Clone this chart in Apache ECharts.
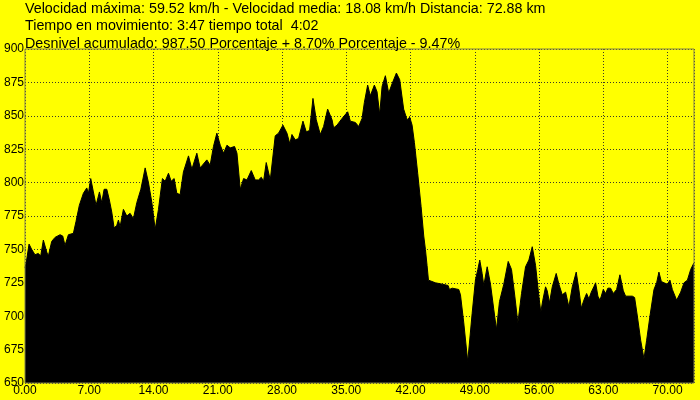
<!DOCTYPE html>
<html>
<head>
<meta charset="utf-8">
<script src="https://cdn.jsdelivr.net/npm/echarts@6/dist/echarts.min.js"></script>
<style>html,body{margin:0;padding:0;background:#ffff00;}#c{width:700px;height:400px;}</style>
</head>
<body>
<div id="c"></div>
<script>
const headerLines = [
  "Velocidad máxima: 59.52 km/h - Velocidad media: 18.08 km/h Distancia: 72.88 km",
  "Tiempo en movimiento: 3:47 tiempo total  4:02",
  "Desnivel acumulado: 987.50 Porcentaje + 8.70% Porcentaje - 9.47%"
];
const distKm = [
  0.00,0.18,0.44,0.73,1.09,1.45,1.71,2.00,2.37,2.54,
  2.91,3.27,3.82,4.11,4.36,4.73,5.27,5.56,5.92,6.36,
  6.73,6.91,7.16,7.45,7.74,8.11,8.36,8.62,8.91,9.19,
  9.45,9.71,10.00,10.18,10.36,10.72,11.09,11.45,11.81,12.18,
  12.62,13.09,13.45,13.82,14.18,14.54,14.97,15.27,15.63,15.92,
  16.25,16.54,16.90,17.26,17.81,18.18,18.72,19.08,19.81,20.17,
  20.53,20.90,21.27,21.63,22.00,22.36,22.83,23.09,23.45,23.81,
  24.18,24.65,25.08,25.44,25.74,25.99,26.28,26.72,27.26,27.62,
  28.10,28.54,28.85,29.08,29.44,29.80,30.28,30.64,31.00,31.37,
  31.73,32.17,32.53,32.97,33.45,33.62,33.99,34.54,35.15,35.44,
  35.99,36.35,36.72,36.97,37.33,37.62,38.06,38.35,38.64,38.90,
  39.26,39.62,39.99,40.46,40.82,41.25,41.62,41.91,42.17,42.42,
  42.78,43.15,43.44,43.62,43.80,43.95,44.71,45.44,46.09,46.24,
  46.53,47.25,47.44,47.80,48.23,48.71,49.07,49.33,49.54,49.80,
  49.98,50.35,50.71,51.07,51.36,51.69,52.16,52.64,53.00,53.36,
  53.69,54.09,54.53,54.89,55.26,55.62,55.98,56.19,56.41,56.71,
  56.89,57.14,57.44,57.87,58.16,58.53,58.89,59.25,59.62,60.05,
  60.34,60.60,60.88,61.18,61.43,61.69,61.97,62.16,62.41,62.63,
  62.78,63.00,63.25,63.50,63.79,64.09,64.45,64.81,65.18,65.43,
  66.16,66.41,66.71,67.07,67.43,67.72,68.08,68.52,68.81,69.06,
  69.32,69.61,69.98,70.26,70.52,70.99,71.43,71.79,72.16,72.52,
  72.88
];
const elevM = [
  736,742,754,750,746,747,745,757,748,745,
  756,759,761,760,753,761,762,771,783,792,
  796,792,803,793,783,793,785,795,795,787,
  778,766,768,772,767,780,775,777,773,785,
  795,811,800,785,765,780,803,801,807,801,
  803,792,791,808,820,810,822,811,817,813,
  827,837,828,822,828,826,827,822,795,803,
  802,809,802,802,804,801,815,802,835,837,
  843,837,829,836,832,833,846,838,839,863,
  847,836,842,855,847,841,843,848,853,846,
  845,842,848,860,873,865,873,868,851,872,
  880,867,874,882,877,855,847,849,843,830,
  807,782,760,750,738,727,725,724,723,720,
  721,720,716,695,666,702,727,735,742,732,
  723,737,724,705,690,711,724,741,735,715,
  695,717,737,742,752,738,715,703,712,722,
  719,710,722,732,724,716,718,707,722,733,
  720,706,712,717,713,718,722,725,715,712,
  715,720,717,721,721,717,720,731,719,715,
  715,714,700,682,668,682,700,720,725,733,
  726,725,724,727,720,712,718,725,727,735,
  740
];
const xTickStep = 7;
const yMin = 650, yMax = 900, yStep = 25;

const chart = echarts.init(document.getElementById('c'), null, {renderer: 'canvas'});
const FONT = 'Liberation Sans, Arial, sans-serif';
const grid = '#3a3a2a';
chart.setOption({
  animation: false,
  backgroundColor: '#ffff00',
  graphic: headerLines.map((t, i) => ({
    type: 'text', left: 25, top: 2 + i * 17.5, z: 10,
    style: {text: t, fill: '#000', font: '14.3px ' + FONT}
  })),
  grid: {left: 25, right: 6, top: 49, bottom: 17, show: true, z: 5,
         backgroundColor: 'transparent', borderColor: '#80804a', borderWidth: 1},
  xAxis: {
    type: 'value', min: 0, max: distKm[distKm.length - 1], interval: xTickStep,
    axisLine: {show: false}, axisTick: {show: false},
    splitLine: {show: true, lineStyle: {color: grid, type: [1, 2], width: 1}},
    axisLabel: {color: '#000', fontSize: 12, fontFamily: FONT, margin: 2, showMaxLabel: false,
      formatter: v => (Math.abs(v / xTickStep - Math.round(v / xTickStep)) < 1e-6 ? v.toFixed(2) : '')}
  },
  yAxis: {
    type: 'value', min: yMin, max: yMax, interval: yStep,
    axisLine: {show: false}, axisTick: {show: false},
    splitLine: {show: true, lineStyle: {color: grid, type: [1, 2], width: 1}},
    axisLabel: {color: '#000', fontSize: 12, fontFamily: FONT, margin: 1,
      verticalAlign: 'middle', padding: [0, 0, 7, 0]}
  },
  series: [{
    type: 'line', symbol: 'none', silent: true,
    data: distKm.map((d, i) => [d, elevM[i]]),
    lineStyle: {color: '#000', width: 1},
    areaStyle: {color: '#000', opacity: 1, origin: 'start'}
  }]
});
</script>
</body>
</html>
